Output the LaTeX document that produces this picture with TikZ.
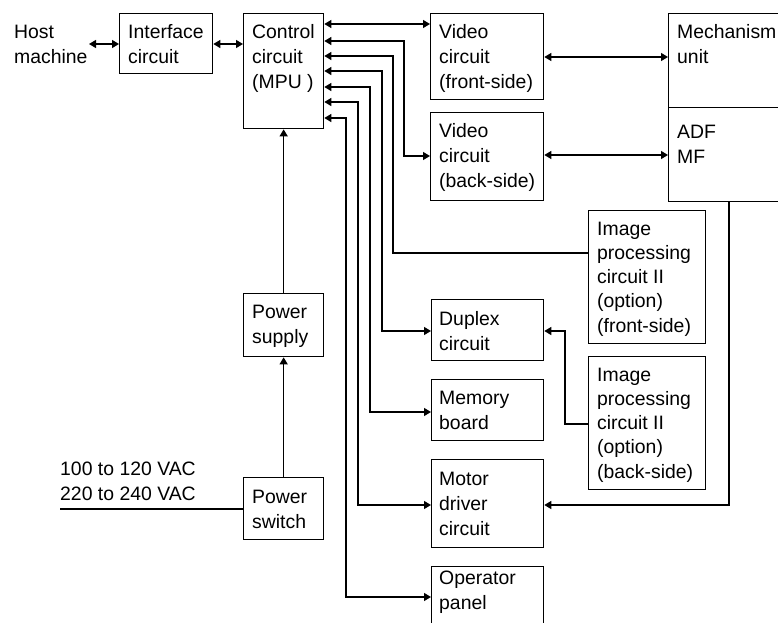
\documentclass[tikz,border=0pt]{standalone}
\usepackage{fontspec}
\setmainfont{Liberation Sans}
\usetikzlibrary{arrows.meta}

% left-aligned stack of lines whose reference point is the first baseline
\newcommand\stackl[1]{\begin{tabular}[t]{@{}l@{}}#1\end{tabular}}

\begin{document}
\begin{tikzpicture}[x=1pt,y=-1pt,
  box/.style={draw, line width=1.3pt, rectangle, anchor=north west, inner sep=0pt},
  txt/.style={anchor=base west, inner sep=0pt, font=\fontsize{19.4}{25}\selectfont},
  txtn/.style={txt, font=\fontsize{19.4}{24.3}\selectfont},
  wire/.style={line width=1.3pt},
  tipa/.style={wire, -{Triangle[length=7pt,width=8pt]}},
  tipb/.style={wire, {Triangle[length=7pt,width=8pt]}-{Triangle[length=7pt,width=8pt]}},
  tipr/.style={wire, {Triangle[length=7pt,width=8pt]}-}]

\useasboundingbox (0,0) rectangle (778,622);

% ---- blocks
\node[box, minimum width=93pt,  minimum height=60pt]  (iface) at (119,13)  {};
\node[box, minimum width=80pt,  minimum height=115pt] (ctrl)  at (243,13)  {};
\node[box, minimum width=113pt, minimum height=86pt]  (vfront) at (430,13) {};
\node[box, minimum width=113pt, minimum height=88pt]  (vback) at (430,112) {};
\node[box, minimum width=130pt, minimum height=94pt]  (mech)  at (668,13)  {};
\node[box, minimum width=130pt, minimum height=94pt]  (adf)   at (668,107) {};
\node[box, minimum width=117pt, minimum height=133pt] (imgf)  at (588,210) {};
\node[box, minimum width=117pt, minimum height=133pt] (imgb)  at (588,356) {};
\node[box, minimum width=112pt, minimum height=61pt]  (dup)   at (431,299) {};
\node[box, minimum width=112pt, minimum height=61pt]  (mem)   at (431,379) {};
\node[box, minimum width=112pt, minimum height=88pt]  (motor) at (431,459) {};
\node[box, minimum width=112pt, minimum height=70pt]  (oper)  at (431,566) {};
\node[box, minimum width=80pt,  minimum height=63pt]  (psu)   at (243,293) {};
\node[box, minimum width=80pt,  minimum height=62pt]  (psw)   at (243,477) {};

% ---- texts
\node[txt] (host)   at (14,38)   {\stackl{Host\\machine}};
\node[txt] (ifacet) at (128,38)  {\stackl{Interface\\circuit}};
\node[txt] (ctrlt)  at (252,38)  {\stackl{Control\\circuit\\(MPU )}};
\node[txt] (vfrontt) at (439,38) {\stackl{Video\\circuit\\(front-side)}};
\node[txt] (vbackt) at (439,137) {\stackl{Video\\circuit\\(back-side)}};
\node[txt] (mecht)  at (677,38)  {\stackl{Mechanism\\unit}};
\node[txt] (adft)   at (677,138) {\stackl{ADF\\MF}};
\node[txtn] (imgft) at (597,235) {\stackl{Image\\processing\\circuit II\\(option)\\(front-side)}};
\node[txtn] (imgbt) at (597,381) {\stackl{Image\\processing\\circuit II\\(option)\\(back-side)}};
\node[txt] (dupt)   at (439,325) {\stackl{Duplex\\circuit}};
\node[txt] (memt)   at (439,404) {\stackl{Memory\\board}};
\node[txt] (motort) at (439,485) {\stackl{Motor\\driver\\circuit}};
\node[txt] (opert)  at (439,584) {\stackl{Operator\\panel}};
\node[txt] (psut)   at (252,318) {\stackl{Power\\supply}};
\node[txt] (pswt)   at (252,503) {\stackl{Power\\switch}};
\node[txt] (vac)    at (60,475)  {\stackl{100 to 120 VAC\\220 to 240 VAC}};

% ---- free line ends
\coordinate (hostR) at (89,44);
\coordinate (acin)  at (60,509);

% ---- connectors
\draw[tipb] (hostR) -- (iface.west |- hostR);
\draw[tipb] (iface.east |- 0,44) -- (ctrl.west |- 0,44);

\draw[tipb] (ctrl.east |- 0,24) -- (vfront.west |- 0,24);
\draw[tipb] (ctrl.east |- 0,41) -- (404,41) -- (404,156) -- (vback.west |- 0,156);
\draw[tipr] (ctrl.east |- 0,56) -- (393,56) -- (393,253) -- (imgf.west |- 0,253);
\draw[tipb] (ctrl.east |- 0,71) -- (382,71) -- (382,331) -- (dup.west |- 0,331);
\draw[tipb] (ctrl.east |- 0,87) -- (370,87) -- (370,412) -- (mem.west |- 0,412);
\draw[tipb] (ctrl.east |- 0,102) -- (358,102) -- (358,505) -- (motor.west |- 0,505);
\draw[tipb] (ctrl.east |- 0,118) -- (346,118) -- (346,597) -- (oper.west |- 0,597);

\draw[tipb] (vfront.east |- 0,57) -- (mech.west |- 0,57);
\draw[tipb] (vback.east |- 0,155) -- (adf.west |- 0,155);

\draw[tipa] (adf.south -| 729,0) -- (729,505) -- (motor.east |- 0,505);
\draw[tipa] (imgb.west |- 0,424) -- (565,424) -- (565,331) -- (dup.east |- 0,331);

\draw[tipa] (psu.north) -- (ctrl.south);
\draw[tipa] (psw.north) -- (psu.south);
\draw[wire] (acin) -- (psw.west |- acin);

\end{tikzpicture}
\end{document}
